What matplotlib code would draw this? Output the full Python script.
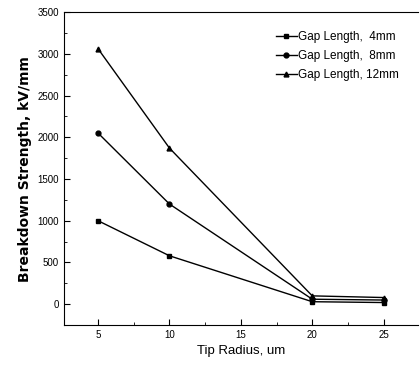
import matplotlib
matplotlib.use("Agg")
import matplotlib.pyplot as plt
from matplotlib.ticker import MultipleLocator

plt.rcParams['font.family'] = ['Liberation Sans', 'DejaVu Sans']

# Data
tip_radius = [5, 10, 20, 25]
gap_4mm = [1000, 580, 30, 20]
gap_8mm = [2050, 1200, 60, 50]
gap_12mm = [3060, 1870, 100, 80]

series = [
    (gap_4mm, 's', 'Gap Length,  4mm'),
    (gap_8mm, 'o', 'Gap Length,  8mm'),
    (gap_12mm, '^', 'Gap Length, 12mm'),
]

fig = plt.figure(figsize=(4.2, 3.78), dpi=100)
ax = fig.add_axes([0.152, 0.14, 0.843, 0.828])

for vals, mk, lab in series:
    ax.plot(tip_radius, vals, color='black', lw=1.0, marker=mk, markersize=3.5,
            label=lab)

ax.set_xlim(2.6, 27.4)
ax.set_ylim(-250, 3500)
ax.xaxis.set_major_locator(MultipleLocator(5))
ax.xaxis.set_minor_locator(MultipleLocator(2.5))
ax.yaxis.set_major_locator(MultipleLocator(500))
ax.yaxis.set_minor_locator(MultipleLocator(250))
ax.tick_params(which='both', direction='in', labelsize=7)
ax.tick_params(which='major', length=4)
ax.tick_params(which='minor', length=2)
ax.spines['right'].set_visible(False)

ax.set_xlabel('Tip Radius, um', fontsize=9.5)
ax.set_ylabel('Breakdown Strength, kV/mm', fontsize=10, fontweight='bold',
              family='DejaVu Sans')

ax.legend(loc='upper right', frameon=False, fontsize=8.5, handlelength=1.8,
          handletextpad=0.1, labelspacing=0.6, borderaxespad=1.2)

fig.savefig('out.png', dpi=100)
